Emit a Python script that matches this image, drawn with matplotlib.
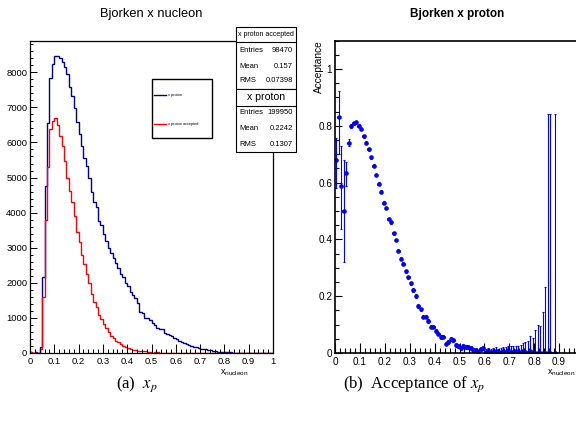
import numpy as np
import matplotlib
matplotlib.use('Agg')
import matplotlib.pyplot as plt
from matplotlib.ticker import MultipleLocator, FuncFormatter
from matplotlib.patches import Rectangle
from matplotlib.lines import Line2D

plt.rcParams['font.family'] = 'Liberation Sans'
plt.rcParams['mathtext.fontset'] = 'custom'
plt.rcParams['mathtext.rm'] = 'Liberation Sans'
plt.rcParams['mathtext.it'] = 'Liberation Sans:italic'

W, H = 576, 434

# 100 bins of 0.01 in x
bin_edges = np.linspace(0, 1, 101)

# x proton (all), counts per bin
x_proton = [25, 12, 17, 8, 180, 2160, 4750, 6560, 7850, 8250,
            8470, 8460, 8420, 8300, 8150, 7940, 7590, 7320, 6990, 6570,
            6230, 5900, 5560, 5320, 4990, 4580, 4300, 4150, 3750, 3650,
            3400, 3180, 3000, 2860, 2700, 2560, 2420, 2250, 2180, 1990,
            1900, 1750, 1660, 1560, 1420, 1180, 1140, 1000, 990, 940,
            850, 800, 705, 690, 675, 560, 530, 510, 475, 430,
            400, 330, 300, 280, 250, 220, 200, 180, 160, 140,
            120, 110, 100, 90, 75, 60, 50, 40, 35, 30,
            25, 20, 15, 12, 10, 1, 1, 0, 1, 0,
            0, 0, 0, 0, 0, 0, 0, 0, 0, 0]

# x proton accepted, counts per bin
x_proton_accepted = [17, 10, 10, 4, 115, 1600, 3800, 5300, 6370, 6610,
                     6700, 6500, 6180, 5890, 5470, 5000, 4610, 4300, 3900, 3450,
                     3150, 2780, 2550, 2240, 1990, 1680, 1450, 1300, 1080, 975,
                     840, 706, 600, 480, 416, 330, 305, 255, 205, 185,
                     148, 119, 95, 88, 50, 46, 52, 45, 28, 24,
                     14, 20, 15, 13, 9, 5, 5, 2, 5, 5,
                     2, 2, 1, 1, 2, 1, 1, 1, 0, 1,
                     0, 0, 0, 0, 0, 0, 0, 0, 0, 0,
                     0, 0, 0, 0, 0, 0, 0, 0, 0, 0,
                     0, 0, 0, 0, 0, 0, 0, 0, 0, 0]

# acceptance per bin (bins 0..88), nan = no point
nan = np.nan
acceptance = [0.68, 0.832, 0.588, 0.50, 0.633, 0.741, 0.799, 0.809, 0.813, 0.80,
              0.789, 0.764, 0.741, 0.717, 0.689, 0.659, 0.627, 0.597, 0.568, 0.529,
              0.511, 0.472, 0.461, 0.421, 0.398, 0.360, 0.332, 0.315, 0.288, 0.267,
              0.246, 0.222, 0.201, 0.165, 0.154, 0.128, 0.128, 0.113, 0.093, 0.093,
              0.078, 0.068, 0.057, 0.058, 0.033, 0.039, 0.048, 0.046, 0.028, 0.026,
              0.016, 0.025, 0.022, 0.022, 0.016, 0.010, 0.010, 0.004, 0.013, 0.016,
              0.005, 0.007, 0.004, 0.005, 0.008, 0.003, 0.004, 0.007, 0.003, 0.009,
              0.004, 0.004, 0.006, 0.003, 0.004, 0.006, 0.003, 0.0, 0.008, 0.0,
              0.0, 0.0, 0.0, 0.0, 0.0, 0.0, 0.0, nan, 0.0]
acc_err_lo = [0.10, 0.13, 0.15, 0.18, 0.045, 0.012, 0.006, 0.005, 0.005, 0.005,
              0.005, 0.005, 0.005, 0.005, 0.005, 0.005, 0.005, 0.005, 0.005, 0.005,
              0.005, 0.005, 0.005, 0.005, 0.005, 0.005, 0.005, 0.005, 0.005, 0.005,
              0.005, 0.006, 0.006, 0.006, 0.006, 0.006, 0.006, 0.006, 0.006, 0.006,
              0.006, 0.006, 0.006, 0.006, 0.006, 0.006, 0.007, 0.007, 0.007, 0.007,
              0.007, 0.007, 0.007, 0.007, 0.007, 0.007, 0.007, 0.004, 0.007, 0.007,
              0.005, 0.007, 0.004, 0.005, 0.008, 0.003, 0.004, 0.007, 0.003, 0.009,
              0.004, 0.004, 0.006, 0.003, 0.004, 0.006, 0.003, 0.0, 0.008, 0.0,
              0.0, 0.0, 0.0, 0.0, 0.0, 0.0, 0.0, nan, 0.0]
acc_err_hi = [0.076, 0.09, 0.14, 0.18, 0.04, 0.012, 0.006, 0.005, 0.005, 0.005,
              0.005, 0.005, 0.005, 0.005, 0.005, 0.005, 0.005, 0.005, 0.005, 0.005,
              0.005, 0.005, 0.005, 0.005, 0.005, 0.005, 0.005, 0.005, 0.005, 0.005,
              0.005, 0.006, 0.006, 0.006, 0.006, 0.006, 0.006, 0.006, 0.006, 0.006,
              0.006, 0.006, 0.006, 0.006, 0.006, 0.006, 0.007, 0.007, 0.007, 0.007,
              0.007, 0.007, 0.007, 0.007, 0.007, 0.007, 0.007, 0.007, 0.007, 0.007,
              0.009, 0.010, 0.010, 0.011, 0.012, 0.012, 0.015, 0.015, 0.017, 0.015,
              0.020, 0.020, 0.020, 0.023, 0.025, 0.028, 0.036, 0.041, 0.052, 0.053,
              0.082, 0.100, 0.094, 0.144, 0.232, 0.841, 0.841, nan, 0.841]

stats_acc = [('Entries', '98470'), ('Mean', '0.157'), ('RMS', '0.07398')]
stats_all = [('Entries', '199950'), ('Mean', '0.2242'), ('RMS', '0.1307')]

tick_fmt = FuncFormatter(lambda v, p: '%g' % round(v, 3))
# right panel: the "1" label would sit beyond the figure edge
tick_fmt_r = FuncFormatter(lambda v, p: '' if v > 0.95 else '%g' % round(v, 3))


def fx(px):
    return px / W


def fy(py):
    return 1 - py / H


fig = plt.figure(figsize=(W / 100, H / 100), dpi=100)

# ---------------- left: histograms ----------------
ax1 = fig.add_axes([fx(30), fy(353), (273 - 30) / W, (353 - 40.7) / H])
ax1.stairs(x_proton, bin_edges, color='#000099', lw=1.0)
ax1.stairs(x_proton_accepted, bin_edges, color='#ff0000', lw=1.0)
ax1.set_xlim(0, 1)
ax1.set_ylim(0, 8900)
ax1.xaxis.set_major_locator(MultipleLocator(0.1))
ax1.xaxis.set_minor_locator(MultipleLocator(0.02))
ax1.yaxis.set_major_locator(MultipleLocator(1000))
ax1.yaxis.set_minor_locator(MultipleLocator(200))
ax1.xaxis.set_major_formatter(tick_fmt)
ax1.tick_params(which='both', direction='in', top=False, right=False, labelsize=6.8, width=0.7)
ax1.tick_params(axis='x', which='major', length=6.5, pad=3)
ax1.tick_params(axis='x', which='minor', length=3.2)
ax1.tick_params(axis='y', which='major', length=4.7, pad=2)
ax1.tick_params(axis='y', which='minor', length=2.4)
for s in ax1.spines.values():
    s.set_linewidth(0.9)

# ---------------- right: acceptance ----------------
ax2 = fig.add_axes([fx(335), fy(353), (584 - 335) / W, (353 - 40.7) / H])
centers = 0.5 * (bin_edges[:-1] + bin_edges[1:])
n = len(acceptance)
ax2.errorbar(centers[:n], acceptance, yerr=[acc_err_lo, acc_err_hi], xerr=0.005,
             fmt='o', ms=2.3, color='#0000ff', ecolor='#0000ff', elinewidth=0.8,
             capsize=1.0, capthick=0.8)
ax2.set_xlim(0, 1)
ax2.set_ylim(0, 1.1)
ax2.xaxis.set_major_locator(MultipleLocator(0.1))
ax2.xaxis.set_minor_locator(MultipleLocator(0.02))
ax2.yaxis.set_major_locator(MultipleLocator(0.2))
ax2.yaxis.set_minor_locator(MultipleLocator(0.05))
ax2.xaxis.set_major_formatter(tick_fmt_r)
ax2.yaxis.set_major_formatter(tick_fmt)
ax2.tick_params(which='both', direction='in', top=False, right=False, labelsize=7.2, width=0.8)
ax2.tick_params(axis='x', which='major', length=7, pad=3)
ax2.tick_params(axis='x', which='minor', length=3.5)
ax2.tick_params(axis='y', which='major', length=5, pad=2)
ax2.tick_params(axis='y', which='minor', length=2.8)
for s in ax2.spines.values():
    s.set_linewidth(1.2)

# ---------------- titles and axis titles ----------------
fig.text(fx(151.5), fy(13.5), 'Bjorken x nucleon', ha='center', va='center', fontsize=9.3)
fig.text(fx(457), fy(14), 'Bjorken x proton', ha='center', va='center', fontsize=8.5,
         fontweight='bold')
fig.text(fx(248), fy(375), r'x$_{\mathrm{nucleon}}$', ha='right', va='baseline', fontsize=6.5)
fig.text(fx(575), fy(375), r'x$_{\mathrm{nucleon}}$', ha='right', va='baseline', fontsize=6.5)
fig.text(fx(319), fy(40), 'Acceptance', rotation=90, ha='center', va='top', fontsize=7.3)

# ---------------- stats boxes ----------------
def box(x0, y0, x1, y1, lw=0.8):
    fig.add_artist(Rectangle((fx(x0), fy(y1)), (x1 - x0) / W, (y1 - y0) / H,
                             transform=fig.transFigure, facecolor='white',
                             edgecolor='black', lw=lw, zorder=5))


def hline(x0, x1, y, color='black', lw=0.8):
    fig.add_artist(Line2D([fx(x0), fx(x1)], [fy(y), fy(y)], transform=fig.transFigure,
                          color=color, lw=lw, zorder=6))


box(236, 26.7, 296, 89.3)
hline(236, 296, 41.7)
fig.text(fx(266), fy(34), 'x proton accepted', ha='center', va='center', fontsize=5, zorder=7)
for (lab, val), yy in zip(stats_acc, [50.7, 66, 81]):
    fig.text(fx(239), fy(yy), lab, ha='left', va='center', fontsize=5.5, zorder=7)
    fig.text(fx(293), fy(yy), val, ha='right', va='center', fontsize=5.5, zorder=7)

box(236, 89.3, 296, 151.7)
hline(236, 296, 106)
fig.text(fx(266), fy(97), 'x proton', ha='center', va='center', fontsize=7.6, zorder=7)
for (lab, val), yy in zip(stats_all, [113, 129, 144]):
    fig.text(fx(239), fy(yy), lab, ha='left', va='center', fontsize=5.5, zorder=7)
    fig.text(fx(293), fy(yy), val, ha='right', va='center', fontsize=5.5, zorder=7)

# ---------------- legend ----------------
box(151.7, 79, 212, 138, lw=1.0)
hline(154, 166, 95, color='#000099', lw=1.0)
fig.text(fx(168), fy(95), 'x proton', ha='left', va='center', fontsize=2.8, zorder=7)
hline(154, 166, 124, color='#ff0000', lw=1.0)
fig.text(fx(168), fy(124), 'x proton accepted', ha='left', va='center', fontsize=2.8, zorder=7)

# ---------------- captions ----------------
fig.text(fx(137), fy(384), r'(a)  $x_p$', ha='center', va='center', fontsize=12,
         family='Liberation Serif', math_fontfamily='stix')
fig.text(fx(414), fy(384), r'(b)  Acceptance of $x_p$', ha='center', va='center',
         fontsize=12, family='Liberation Serif', math_fontfamily='stix')

fig.savefig('out.png', dpi=100)
